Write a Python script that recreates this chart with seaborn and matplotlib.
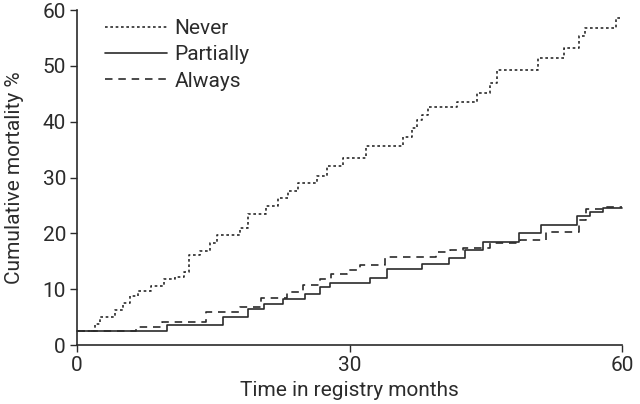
import matplotlib
matplotlib.use("Agg")
import matplotlib.pyplot as plt
import pandas as pd
import seaborn as sns

# step times (months) and cumulative mortality (%) per group
never_t = [0, 2.0, 2.5, 4.2, 5.1, 5.8, 6.75, 8.2, 9.6, 10.8, 11.8, 12.3, 13.5, 14.6,
           15.4, 17.95, 18.8, 20.8, 22.1, 23.2, 24.35, 26.4, 27.5, 29.3, 31.8, 35.9,
           36.9, 37.4, 37.95, 38.6, 41.8, 44.0, 45.5, 46.2, 50.8, 53.6, 55.3, 55.9,
           59.3, 59.8]
never_v = [2.6, 3.8, 5.1, 6.3, 7.5, 8.7, 9.7, 10.6, 11.9, 12.2, 13.0, 16.1, 16.9, 18.2,
           19.7, 20.9, 23.4, 24.9, 26.4, 27.6, 29.1, 30.2, 32.1, 33.5, 35.7, 37.3,
           38.8, 40.3, 41.2, 42.7, 43.6, 45.1, 46.9, 49.3, 51.4, 53.2, 55.3, 56.8,
           58.5, 58.5]

partial_t = [0, 9.9, 16.1, 18.8, 20.6, 22.7, 25.1, 26.8, 27.9, 32.2, 34.1, 38.0, 41.0,
             42.7, 44.7, 48.7, 51.1, 55.0, 56.5, 57.9, 60]
partial_v = [2.6, 3.5, 5.1, 6.4, 7.3, 8.2, 9.1, 10.4, 11.05, 11.95, 13.6, 14.5, 15.5,
             17.0, 18.5, 20.1, 21.5, 23.1, 23.8, 24.6, 24.6]

always_t = [0, 6.5, 9.4, 14.2, 17.9, 20.3, 23.1, 24.9, 26.8, 28.0, 29.7, 31.2, 33.9,
            39.5, 41.1, 42.5, 45.5, 48.8, 51.6, 55.3, 56.0, 57.9, 60]
always_v = [2.6, 3.3, 4.2, 5.9, 6.9, 8.4, 9.55, 10.75, 11.8, 12.7, 13.4, 14.3, 15.7,
            16.7, 17.0, 17.3, 18.2, 18.8, 20.3, 22.4, 24.3, 24.8, 24.8]

groups = {
    "Never": (never_t, never_v, (0, (1.6, 1.6))),
    "Partially": (partial_t, partial_v, "-"),
    "Always": (always_t, always_v, (0, (4.5, 3.5))),
}

sns.set_style("ticks")
plt.rcParams["font.family"] = ["Roboto", "DejaVu Sans"]
color = "#2b2b2b"
fs = 15

fig, ax = plt.subplots(figsize=(6.4, 4.04), dpi=100)
fig.subplots_adjust(left=0.1203, right=0.972, bottom=0.146, top=0.975)

for name, (t, v, ls) in groups.items():
    df = pd.DataFrame({"t": t, "v": v})
    sns.lineplot(data=df, x="t", y="v", ax=ax, drawstyle="steps-post",
                 estimator=None, color=color, linestyle=ls, linewidth=1.2,
                 label=name, clip_on=False)

ax.set_xlim(0, 60)
ax.set_ylim(0, 60)
ax.set_xticks([0, 30, 60])
ax.set_yticks(range(0, 61, 10))
ax.set_xlabel("Time in registry months", fontsize=fs, color=color, labelpad=4)
ax.set_ylabel("Cumulative mortality %", fontsize=fs, color=color, labelpad=13)
ax.tick_params(labelsize=fs, colors=color, length=5, width=1, pad=3)
sns.despine(ax=ax)
for s in ("left", "bottom"):
    ax.spines[s].set_color(color)
    ax.spines[s].set_linewidth(1.2)

leg = ax.legend(loc="upper left", bbox_to_anchor=(0.051, 0.973), frameon=False,
                borderpad=0, borderaxespad=0, fontsize=fs, handlelength=3.0,
                handletextpad=0.35, labelspacing=0.35)
for txt in leg.get_texts():
    txt.set_color(color)

fig.savefig("out.png", dpi=100)
